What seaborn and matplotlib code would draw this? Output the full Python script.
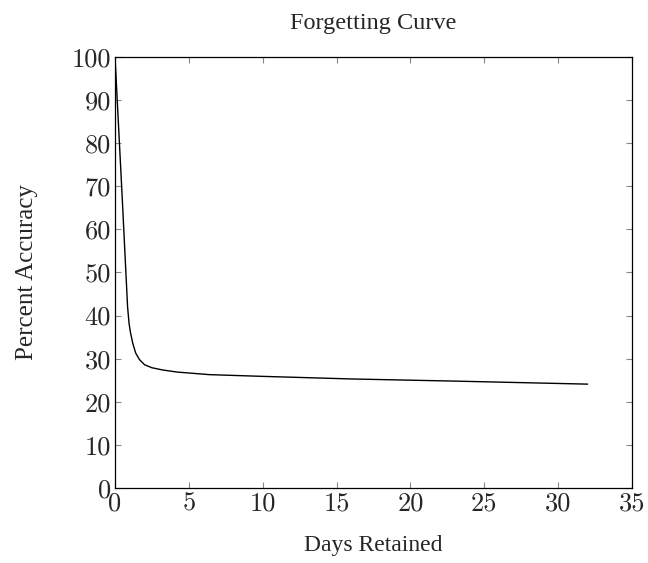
import numpy as np
import pandas as pd
import matplotlib
matplotlib.use('Agg')
import matplotlib.pyplot as plt
import seaborn as sns

# values
days = [0, 0.5, 0.85, 0.95, 1.05, 1.2, 1.4, 1.65, 2.0, 2.5, 3.2, 4.2, 6.4, 10, 16, 23, 32]
accuracy = [100, 66.5, 42.0, 38.2, 36.0, 33.6, 31.3, 29.8, 28.6, 27.9, 27.4, 26.9, 26.3, 25.9, 25.3, 24.8, 24.1]

x_ticks = [0, 5, 10, 15, 20, 25, 30, 35]
y_ticks = [0, 10, 20, 30, 40, 50, 60, 70, 80, 90, 100]

df = pd.DataFrame({'days': days, 'accuracy': accuracy})

sns.set_style('ticks')
plt.rcParams['font.family'] = ['Liberation Serif', 'DejaVu Serif']

fig = plt.figure(figsize=(6.48, 5.63), dpi=100)
ax = fig.add_axes([0.1775, 0.1332, 0.7978, 0.7656])

sns.lineplot(data=df, x='days', y='accuracy', ax=ax, color='black', linewidth=1.0)

ax.set_xlim(0, 35)
ax.set_ylim(0, 100)
ax.set_xticks(x_ticks)
ax.set_yticks(y_ticks)
ax.set_xticklabels([str(t) for t in x_ticks], fontfamily='cmr10', fontsize=19)
ax.set_yticklabels([str(t) for t in y_ticks], fontfamily='cmr10', fontsize=19)

ax.tick_params(direction='in', length=4, width=0.8, color='#888888',
               top=True, right=True, pad=3)
for s in ax.spines.values():
    s.set_visible(True)
    s.set_color('black')
    s.set_linewidth(0.9)

ax.set_title('Forgetting Curve', fontsize=17.5, pad=20)
ax.set_xlabel('Days Retained', fontsize=17, labelpad=14)
ax.set_ylabel('Percent Accuracy', fontsize=18, labelpad=24)

fig.savefig('out.png', dpi=100)
